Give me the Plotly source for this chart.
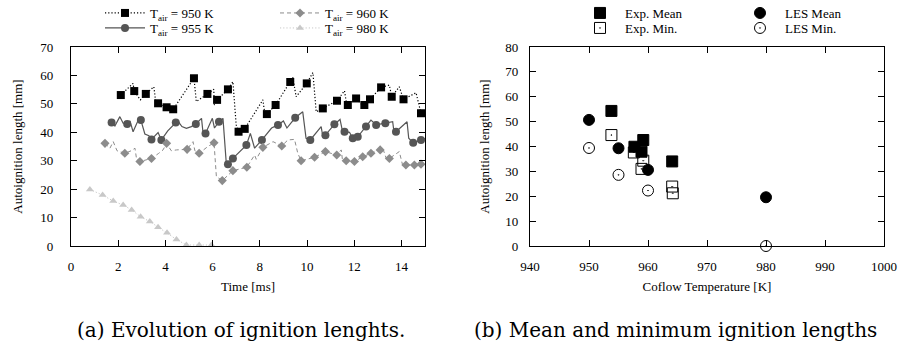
import plotly.graph_objects as go

# ---------------- Data: left panel (time evolution) ----------------
t950 = [2.11, 2.63, 2.68, 2.94, 3.17, 3.51, 3.59, 3.69, 4.05, 4.33, 5.21, 5.31, 5.78, 6.05, 6.07,
        6.19, 6.65, 6.86, 7.00, 7.10, 7.36, 8.13, 8.20, 8.30, 8.67, 9.29, 9.40, 9.54, 9.99, 10.25,
        10.39, 10.67, 11.27, 11.59, 11.66, 11.73, 12.08, 12.30, 12.43, 12.67, 13.14, 13.49, 13.59,
        13.91, 14.09, 14.62, 14.83, 15.0]
v950 = [53.1, 57.2, 54.5, 51.4, 53.5, 56.0, 50.8, 50.2, 48.8, 48.1, 59.0, 50.8, 53.5, 55.1, 49.6,
        51.4, 55.1, 57.8, 42.6, 40.2, 41.2, 51.4, 47.2, 46.4, 49.6, 57.7, 59.3, 52.5, 57.2, 61.0,
        47.2, 48.4, 51.1, 54.6, 50.8, 49.6, 51.9, 50.0, 49.6, 51.6, 55.8, 56.6, 52.5,
        56.0, 51.6, 53.9, 46.7, 47.5]
t950_mk = [2.11, 2.68, 3.17, 3.69, 4.05, 4.33, 5.21, 5.78, 6.19, 6.65, 7.10, 7.36, 8.30, 8.67,
           9.29, 9.99, 10.67, 11.27, 11.73, 12.08, 12.43, 12.67, 13.14, 13.59, 14.09, 14.83]
v950_mk = [53.1, 54.5, 53.5, 50.2, 48.8, 48.1, 59.0, 53.5, 51.4, 55.1, 40.2, 41.2, 46.4, 49.6,
           57.7, 57.2, 48.4, 51.1, 49.6, 51.9, 49.6, 51.6, 55.8, 52.5, 51.6, 46.7]

t955 = [1.72, 1.86, 2.07, 2.21, 2.38, 2.50, 2.63, 2.85, 2.96, 3.13, 3.30, 3.41, 3.69, 3.83, 4.10,
        4.44, 4.50, 4.70, 4.89, 5.10, 5.29, 5.53, 5.59, 5.70, 5.99, 6.08, 6.27, 6.44, 6.58, 6.65,
        6.86, 7.20, 7.43, 7.60, 7.78, 8.09, 8.50, 8.77, 9.00, 9.15, 9.50, 9.82, 9.96, 10.14, 10.60,
        10.65, 10.78, 11.16, 11.40, 11.50, 11.59, 11.80, 11.94, 12.15, 12.50, 12.71, 12.93, 13.32,
        13.63, 13.68, 13.77, 14.24, 14.31, 14.50, 14.83, 15.0]
v955 = [43.4, 42.2, 45.5, 43.2, 42.9, 44.0, 40.2, 44.3, 44.3, 39.4, 38.8, 37.5, 39.9, 37.3, 40.5,
        43.4, 44.3, 42.0, 41.4, 42.0, 42.9, 44.9, 40.2, 39.6, 44.9, 41.5, 43.7, 44.9, 29.1, 28.8,
        30.8, 33.5, 35.5, 39.6, 34.4, 37.3, 41.5, 42.6, 44.0, 41.5, 45.1, 47.2, 37.9, 37.3, 42.0,
        39.5, 39.0, 42.8, 44.5, 40.5, 40.2, 40.0, 37.9, 38.4, 42.0, 44.3, 42.6, 43.2,
        43.7, 40.5, 40.2, 43.7, 37.9, 36.3, 37.3, 37.8]
t955_mk = [1.72, 2.38, 2.96, 3.41, 3.83, 4.44, 5.29, 5.70, 6.27, 6.65, 6.86, 7.43, 8.09, 8.77,
           9.50, 10.14, 10.78, 11.16, 11.59, 11.94, 12.15, 12.50, 12.93, 13.32, 13.77, 14.50, 14.83]
v955_mk = [43.4, 42.9, 44.3, 37.5, 37.3, 43.4, 42.9, 39.6, 43.7, 28.8, 30.8, 35.5, 37.3, 42.6,
           45.1, 37.3, 39.0, 42.8, 40.2, 37.9, 38.4, 42.0, 42.6, 43.2, 40.2, 36.3, 37.3]

t960 = [1.44, 1.65, 1.79, 1.95, 2.28, 2.55, 2.71, 2.78, 2.92, 3.41, 3.70, 3.90, 4.05, 4.25, 4.47,
        4.92, 5.17, 5.25, 5.43, 5.80, 6.06, 6.16, 6.41, 6.86, 7.45, 7.78, 7.85, 8.13, 8.56, 8.93,
        9.19, 9.47, 9.61, 9.75, 10.32, 10.78, 11.26, 11.45, 11.50, 11.66, 12.01, 12.36, 12.71,
        13.10, 13.21, 13.35, 13.49, 13.91, 14.05, 14.19, 14.55, 14.83, 15.0]
v960 = [36.1, 34.4, 36.7, 33.5, 32.6, 33.5, 34.4, 30.5, 29.7, 30.8, 32.5, 33.8, 36.1, 33.5, 33.8,
        34.0, 36.7, 33.5, 32.6, 35.0, 36.3, 24.4, 23.0, 26.5, 27.7, 32.0, 30.5, 34.7, 36.7, 35.2,
        37.3, 37.5, 32.6, 30.0, 31.2, 33.2, 32.0, 33.8, 30.5, 30.0, 29.7, 31.4, 32.6,
        33.8, 34.4, 31.0, 30.8, 33.2, 28.5, 28.5, 28.5, 28.8, 29.0]
t960_mk = [1.44, 2.28, 2.92, 3.41, 4.05, 4.92, 5.43, 6.06, 6.41, 6.86, 7.45, 8.13, 8.93, 9.75,
           10.32, 10.78, 11.26, 11.66, 12.01, 12.36, 12.71, 13.10, 13.49, 14.19, 14.55, 14.83]
v960_mk = [36.1, 32.6, 29.7, 30.8, 36.1, 34.0, 32.6, 36.3, 23.0, 26.5, 27.7, 34.7, 35.2, 30.0,
           31.2, 33.2, 32.0, 30.0, 29.7, 31.4, 32.6, 33.8, 30.8, 28.5, 28.5, 28.8]

t980 = [0.80, 1.34, 1.79, 2.21, 2.57, 2.95, 3.34, 3.69, 4.07, 4.47, 4.89, 5.43, 5.95]
v980 = [19.9, 17.9, 15.8, 14.4, 12.7, 10.3, 8.6, 6.6, 4.7, 2.3, 0.35, 0.35, 0.35]

# ---------------- Data: right panel (mean / minimum lengths) ----------------
exp_mean_T = [953.8, 957.7, 959.2, 958.9, 964.1]
exp_mean_L = [54.3, 39.9, 42.6, 37.9, 34.0]
exp_min_T = [953.8, 957.6, 959.2, 958.9, 964.1, 964.2]
exp_min_L = [44.6, 37.6, 34.3, 31.0, 23.9, 21.2]
les_mean_T = [950, 955, 960, 980]
les_mean_L = [50.7, 39.3, 30.6, 19.6]
les_min_T = [950, 955, 960, 980]
les_min_L = [39.4, 28.6, 22.3, 0.0]

W, H = 902, 353
SERIF = "'Liberation Serif', 'Times New Roman', serif"
CAPF = "'DejaVu Serif', serif"

fig = go.Figure()

def series(t, v, tm, vm, name, color, dash, symbol, size, lw, legend):
    fig.add_trace(go.Scatter(x=t, y=v, mode="lines", line=dict(color=color, dash=dash, width=lw),
                             showlegend=False, xaxis="x", yaxis="y", hoverinfo="skip",
                             cliponaxis=False))
    fig.add_trace(go.Scatter(x=tm, y=vm, mode="markers",
                             marker=dict(symbol=symbol, size=size, color=color, line=dict(width=0)),
                             showlegend=False, xaxis="x", yaxis="y", cliponaxis=False))
    fig.add_trace(go.Scatter(x=[None], y=[None], mode="lines+markers", name=name,
                             line=dict(color=color, dash=dash, width=lw),
                             marker=dict(symbol=symbol, size=size, color=color, line=dict(width=0)),
                             xaxis="x", yaxis="y", legend=legend))

series(t950, v950, t950_mk, v950_mk, "T<sub>air</sub> = 950 K", "#000000", "1.2px,2px", "square", 8, 1.2, "legend")
series(t955, v955, t955_mk, v955_mk, "T<sub>air</sub> = 955 K", "#555555", "solid", "circle", 8, 1.2, "legend2")
series(t960, v960, t960_mk, v960_mk, "T<sub>air</sub> = 960 K", "#8c8c8c", "4px,3px", "diamond", 7, 1.0, "legend3")
series(t980, v980, t980, v980, "T<sub>air</sub> = 980 K", "#c8c8c8", "1.2px,2px", "triangle-up", 7, 1.0, "legend4")

def pts(x, y, name, symbol, legend):
    fig.add_trace(go.Scatter(x=x, y=y, mode="markers", name=name, xaxis="x2", yaxis="y2",
                             cliponaxis=False,
                             marker=dict(symbol=symbol, size=11, color="#000000",
                                         line=dict(width=1, color="#000000")),
                             legend=legend))

pts(exp_mean_T, exp_mean_L, "Exp. Mean", "square", "legend5")
pts(exp_min_T, exp_min_L, "Exp. Min.", "square-open-dot", "legend6")
pts(les_mean_T, les_mean_L, "LES Mean", "circle", "legend7")
pts(les_min_T, les_min_L, "LES Min.", "circle-open-dot", "legend8")

axis_common = dict(showline=True, linecolor="black", linewidth=1.3, mirror="ticks",
                   ticks="inside", ticklen=6, tickwidth=1, tickcolor="black",
                   showgrid=False, zeroline=False,
                   tickfont=dict(family=SERIF, size=13, color="black"))

y0 = (H - 246) / H
y1 = (H - 47) / H

fig.update_layout(
    width=W, height=H, margin=dict(l=0, r=0, t=0, b=0, autoexpand=False),
    paper_bgcolor="white", plot_bgcolor="white",
    font=dict(family=SERIF, size=13, color="black"),
    xaxis=dict(domain=[71 / W, 425 / W], range=[0, 15], dtick=2, tick0=0, anchor="y",
               ticklabelstandoff=8,
               title=dict(text="Time [ms]", font=dict(family=SERIF, size=13), standoff=9),
               **axis_common),
    yaxis=dict(domain=[y0, y1], range=[0, 70], dtick=10, anchor="x",
               ticklabelstandoff=14,
               title=dict(text="Autoignition length [mm]", font=dict(family=SERIF, size=13), standoff=14),
               **axis_common),
    xaxis2=dict(domain=[530 / W, 884 / W], range=[940, 1000], dtick=10, anchor="y2",
                ticklabelstandoff=8,
                title=dict(text="Coflow Temperature [K]", font=dict(family=SERIF, size=13), standoff=9),
                **axis_common),
    yaxis2=dict(domain=[y0, y1], range=[0, 80], dtick=10, anchor="x2",
                ticklabelstandoff=8,
                title=dict(text="Autoignition length [mm]", font=dict(family=SERIF, size=13), standoff=12),
                **axis_common),
)

leg_common = dict(xanchor="left", yanchor="middle", bgcolor="rgba(0,0,0,0)", borderwidth=0,
                  font=dict(family=SERIF, size=13), tracegroupgap=0, itemwidth=40,
                  orientation="v")
row1 = 1 - 13 / H
row2 = 1 - 28 / H
fig.update_layout(
    legend=dict(x=100 / W, y=row1, **leg_common),
    legend2=dict(x=100 / W, y=row2, **leg_common),
    legend3=dict(x=275 / W, y=row1, **leg_common),
    legend4=dict(x=275 / W, y=row2, **leg_common),
    legend5=dict(x=575 / W, y=row1, **leg_common),
    legend6=dict(x=575 / W, y=row2, **leg_common),
    legend7=dict(x=735 / W, y=row1, **leg_common),
    legend8=dict(x=735 / W, y=row2, **leg_common),
)

fig.add_annotation(text="(a) Evolution of ignition lenghts.", xref="paper", yref="paper",
                   x=241 / W, y=1 - 330 / H, showarrow=False, xanchor="center", yanchor="middle",
                   font=dict(family=CAPF, size=20, color="black"))
fig.add_annotation(text="(b) Mean and minimum ignition lengths", xref="paper", yref="paper",
                   x=472 / W, y=1 - 330 / H, showarrow=False, xanchor="left", yanchor="middle",
                   font=dict(family=CAPF, size=20, color="black"))

fig.write_html("out.html")
